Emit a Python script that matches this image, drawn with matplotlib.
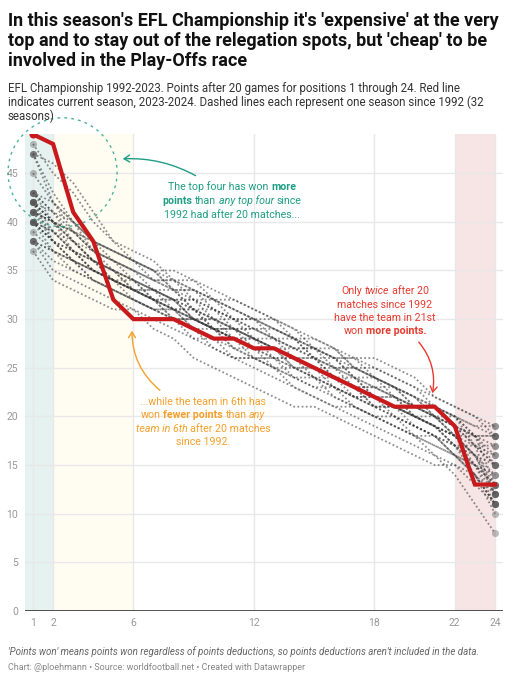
import matplotlib
matplotlib.use("Agg")
import matplotlib.pyplot as plt
from matplotlib.patches import Ellipse, FancyArrowPatch

plt.rcParams['font.family'] = ['Roboto', 'DejaVu Sans']

W, H = 514, 680

positions = list(range(1, 25))

# current season 2023-2024, points after 20 games
current = [49, 48, 41, 38, 32, 30, 30, 30, 29, 28, 28, 27,
           27, 26, 25, 24, 23, 22, 21, 21, 21, 19, 13, 13]

# seasons since 1992 (read approx. off the picture)
seasons = [
    [48, 45, 43, 40, 38, 36, 35, 33, 33, 32, 30, 30, 29, 28, 26, 26, 25, 24, 23, 22, 20, 18, 16, 12],
    [47, 42, 40, 38, 37, 36, 35, 35, 34, 33, 32, 31, 30, 28, 28, 27, 25, 25, 24, 23, 21, 20, 18, 15],
    [47, 46, 44, 41, 38, 37, 36, 34, 32, 31, 30, 29, 29, 28, 27, 25, 25, 24, 22, 21, 21, 20, 18, 13],
    [47, 43, 40, 37, 35, 33, 32, 32, 30, 29, 29, 27, 26, 26, 25, 23, 22, 22, 20, 19, 18, 16, 14, 11],
    [45, 42, 39, 37, 36, 35, 34, 34, 33, 31, 30, 30, 28, 27, 27, 26, 24, 24, 23, 21, 21, 20, 17, 12],
    [43, 41, 39, 38, 36, 35, 33, 33, 31, 30, 30, 28, 28, 27, 26, 25, 25, 24, 23, 22, 21, 20, 19, 18],
    [43, 40, 38, 36, 35, 34, 33, 32, 32, 31, 29, 29, 28, 27, 27, 26, 24, 23, 22, 21, 20, 20, 19, 19],
    [43, 42, 40, 38, 37, 36, 35, 33, 33, 32, 31, 30, 30, 29, 27, 26, 26, 24, 23, 22, 20, 19, 17, 15],
    [43, 41, 38, 36, 34, 32, 31, 30, 30, 29, 27, 26, 26, 24, 23, 23, 21, 20, 20, 18, 17, 16, 15, 13],
    [42, 40, 38, 36, 35, 33, 33, 31, 30, 30, 29, 28, 27, 25, 25, 24, 24, 22, 21, 21, 20, 18, 16, 12],
    [42, 39, 37, 36, 35, 34, 32, 32, 31, 29, 29, 28, 27, 27, 26, 24, 23, 23, 22, 20, 19, 18, 16, 14],
    [42, 41, 40, 38, 37, 36, 34, 33, 31, 31, 30, 29, 28, 28, 26, 25, 24, 23, 23, 21, 20, 18, 17, 16],
    [42, 40, 37, 35, 34, 33, 33, 32, 30, 29, 28, 28, 27, 25, 25, 24, 23, 21, 21, 20, 19, 18, 15, 11],
    [42, 40, 39, 38, 37, 36, 35, 34, 34, 32, 32, 31, 30, 29, 28, 27, 26, 26, 25, 24, 22, 21, 20, 18],
    [42, 38, 36, 34, 33, 32, 31, 31, 29, 27, 26, 26, 25, 23, 22, 21, 21, 20, 19, 18, 17, 16, 15, 14],
    [41, 40, 38, 36, 34, 33, 32, 31, 31, 30, 28, 27, 27, 26, 24, 24, 23, 21, 21, 20, 19, 17, 14, 10],
    [41, 39, 37, 36, 35, 34, 32, 31, 30, 29, 29, 28, 26, 26, 25, 25, 23, 23, 22, 21, 20, 19, 17, 15],
    [41, 38, 36, 34, 33, 32, 31, 30, 28, 28, 27, 26, 25, 24, 24, 22, 21, 20, 19, 18, 18, 16, 14, 12],
    [41, 40, 39, 37, 36, 34, 33, 32, 32, 30, 29, 29, 28, 26, 26, 25, 24, 22, 22, 21, 20, 19, 18, 16],
    [41, 40, 39, 37, 36, 35, 34, 33, 32, 32, 31, 30, 29, 28, 27, 26, 26, 25, 24, 23, 22, 21, 20, 19],
    [40, 38, 37, 36, 35, 34, 33, 32, 31, 29, 28, 28, 27, 26, 25, 24, 22, 22, 21, 20, 19, 17, 15, 13],
    [40, 39, 37, 35, 34, 33, 32, 30, 30, 29, 28, 26, 26, 25, 24, 23, 22, 21, 20, 19, 18, 17, 16, 15],
    [40, 37, 35, 34, 33, 32, 31, 30, 29, 28, 26, 26, 25, 24, 23, 22, 21, 20, 19, 18, 16, 14, 11, 8],
    [40, 38, 36, 35, 34, 34, 33, 32, 30, 30, 29, 28, 27, 26, 26, 24, 23, 22, 22, 20, 19, 18, 16, 13],
    [40, 39, 38, 37, 36, 35, 34, 34, 33, 32, 31, 30, 29, 28, 27, 27, 25, 24, 23, 22, 21, 19, 18, 17],
    [40, 38, 37, 35, 34, 33, 32, 31, 29, 29, 28, 27, 25, 25, 24, 23, 22, 21, 20, 19, 18, 16, 14, 11],
    [39, 37, 36, 35, 34, 33, 32, 31, 30, 29, 28, 27, 27, 26, 25, 24, 23, 22, 21, 20, 19, 18, 18, 18],
    [38, 36, 35, 34, 33, 32, 31, 31, 30, 29, 28, 27, 27, 26, 25, 24, 23, 22, 21, 20, 19, 17, 15, 12],
    [38, 37, 36, 35, 34, 33, 32, 30, 30, 29, 27, 27, 26, 25, 24, 23, 22, 21, 21, 19, 18, 17, 17, 17],
    [38, 35, 34, 33, 32, 31, 30, 29, 28, 27, 26, 25, 24, 23, 22, 21, 20, 19, 18, 17, 16, 15, 14, 11],
    [38, 37, 36, 35, 34, 33, 32, 31, 31, 30, 29, 28, 27, 26, 25, 24, 23, 22, 21, 20, 20, 19, 18, 18],
    [37, 34, 33, 32, 31, 31, 29, 28, 26, 25, 24, 23, 22, 21, 21, 20, 19, 18, 17, 16, 15, 15, 13, 11],
]

xticks = [1, 2, 6, 12, 18, 22, 24]
yticks = [0, 5, 10, 15, 20, 25, 30, 35, 40, 45]

title_lines = ["In this season's EFL Championship it's 'expensive' at the very",
               "top and to stay out of the relegation spots, but 'cheap' to be",
               "involved in the Play-Offs race"]
sub_lines = ["EFL Championship 1992-2023. Points after 20 games for positions 1 through 24. Red line",
             "indicates current season, 2023-2024. Dashed lines each represent one season since 1992 (32",
             "seasons)"]

teal = '#1f9e85'
orange = '#f5a02a'
red_txt = '#e8392e'
red_line = '#c8191c'

fig = plt.figure(figsize=(W / 100, H / 100), dpi=100)
ax = fig.add_axes([25 / W, 1 - 611 / H, 478 / W, (611 - 134.3) / H])

ax.axvspan(0.6, 2, color='#e5f2ef', lw=0, zorder=0)
ax.axvspan(2, 6, color='#fffcf2', lw=0, zorder=0)
ax.axvspan(22, 24.05, color='#f7e5e5', lw=0, zorder=0)

for y in yticks[1:]:
    ax.axhline(y, color='#e8e8e8', lw=1, zorder=1)
for x in xticks:
    ax.axvline(x, color='#e8e8e8', lw=1, zorder=1)
ax.axhline(0, color='#333333', lw=1.2, zorder=5)

for s in seasons:
    ax.plot(positions, s, color='#333333', lw=1.3, ls=(0, (1, 1.3)), alpha=0.55, zorder=2)
    ax.scatter([1, 24], [s[0], s[-1]], s=26, color='#555555', alpha=0.38, lw=0, zorder=3)

ax.plot(positions, current, color=red_line, lw=3, zorder=6, solid_joinstyle='miter')
ax.scatter([1], [current[0]], s=34, color=red_line, lw=0, zorder=7)

circ = Ellipse((2.47, 45.1), 5.43, 11.2, fill=False, ec=teal, lw=1, ls=(0, (2, 3)),
               clip_on=False, zorder=4, alpha=0.8)
ax.add_patch(circ)

ax.set_xlim(0.6, 24.4)
ax.set_ylim(0, 49)
ax.set_xticks(xticks)
ax.set_yticks(yticks)
ax.tick_params(length=0, labelsize=7.5, colors='#999999', pad=5)
for sp in ax.spines.values():
    sp.set_visible(False)

# header
for i, t in enumerate(title_lines):
    fig.text(8 / W, 1 - (26 + i * 19.8) / H, t, fontsize=13.0, fontweight='bold', color='#111111')
for i, t in enumerate(sub_lines):
    fig.text(8 / W, 1 - (91.7 + i * 14.3) / H, t, fontsize=8.3, color='#333333')

# footer
fig.text(8 / W, 1 - 655 / H, "'Points won' means points won regardless of points deductions, so points deductions aren't included in the data.",
         fontsize=7.0, fontstyle='italic', color='#666666')
fig.text(8 / W, 1 - 670 / H, "Chart: @ploehmann \u2022 Source: worldfootball.net \u2022 Created with Datawrapper",
         fontsize=6.5, color='#888888')

# rich text annotations
rend = fig.canvas.get_renderer()


def rich_line(cx, y, parts, color, size=7.7):
    objs = []
    for txt, style in parts:
        t = fig.text(0, 0, txt, fontsize=size, color=color,
                     fontweight='bold' if style == 'b' else 'normal',
                     fontstyle='italic' if style == 'i' else 'normal')
        objs.append(t)
    probe = fig.text(0, 0, 'x x', fontsize=size)
    probe2 = fig.text(0, 0, 'xx', fontsize=size)
    gap = probe.get_window_extent(rend).width - probe2.get_window_extent(rend).width
    probe.remove()
    probe2.remove()
    widths = [o.get_window_extent(rend).width for o in objs]
    total = sum(widths) + gap * (len(objs) - 1)
    x = cx - total / 2
    for o, w in zip(objs, widths):
        o.set_position((x / W, 1 - y / H))
        x += w + gap


teal_lines = [[("The top four has won", 'n'), ("more", 'b')],
              [("points", 'b'), ("than", 'n'), ("any top four", 'i'), ("since", 'n')],
              [("1992 had after 20 matches...", 'n')]]
for i, p in enumerate(teal_lines):
    rich_line(232, 190.5 + i * 13.5, p, teal)

orange_lines = [[("...while the team in 6th has", 'n')],
                [("won", 'n'), ("fewer points", 'b'), ("than", 'n'), ("any", 'i')],
                [("team in 6th", 'i'), ("after 20 matches", 'n')],
                [("since 1992.", 'n')]]
for i, p in enumerate(orange_lines):
    rich_line(203, 405 + i * 13.3, p, orange)

red_lines = [[("Only", 'n'), ("twice", 'i'), ("after 20", 'n')],
             [("matches since 1992", 'n')],
             [("have the team in 21st", 'n')],
             [("won", 'n'), ("more points.", 'b')]]
for i, p in enumerate(red_lines):
    rich_line(385, 294.5 + i * 13.1, p, red_txt)


# arrows
def arrow(x0, y0, x1, y1, color, rad):
    fig.add_artist(FancyArrowPatch(
        (x0 / W, 1 - y0 / H), (x1 / W, 1 - y1 / H), transform=fig.transFigure,
        arrowstyle='->,head_length=4,head_width=2.5', color=color, lw=1,
        connectionstyle=f'arc3,rad={rad}', zorder=8))


arrow(198, 177, 120, 159, teal, 0.15)
arrow(162, 392, 132, 328, orange, -0.25)
arrow(417, 340, 432, 396, red_txt, -0.25)

fig.savefig('out.png', dpi=100)
